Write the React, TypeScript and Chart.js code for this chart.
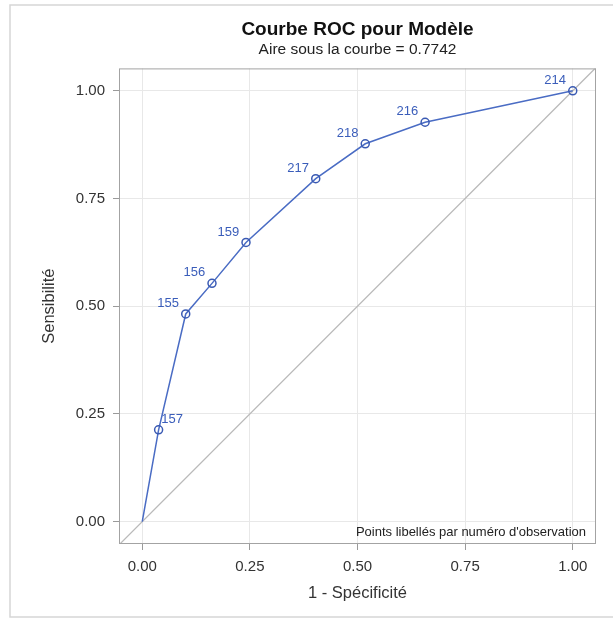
import { useEffect, useRef } from "react";
import { Chart, registerables } from "chart.js";

Chart.register(...registerables);

// ROC curve data (1 - specificity, sensitivity)
const falsePositiveRate = [0, 0.038, 0.101, 0.162, 0.241, 0.403, 0.518, 0.657, 1.0];
const sensitivity = [0, 0.213, 0.482, 0.553, 0.648, 0.796, 0.877, 0.927, 1.0];
const observationLabels = ["", "157", "155", "156", "159", "217", "218", "216", "214"];
const labelPlacement = ["", "right", "left", "left", "left", "left", "left", "left", "left"];
const tickValues = [0, 0.25, 0.5, 0.75, 1];

const titleText = "Courbe ROC pour Modèle";
const subtitleText = "Aire sous la courbe = 0.7742";
const xTitle = "1 - Spécificité";
const yTitle = "Sensibilité";
const noteText = "Points libellés par numéro d'observation";

const FONT = "'Liberation Sans', Arial, sans-serif";
const BLUE_LINE = "#4a6cc4";
const BLUE_MARK = "#3a5ab3";
const BLUE_TEXT = "#3a5dba";

export default function App() {
  const ref = useRef<HTMLCanvasElement | null>(null);

  useEffect(() => {
    const canvas = ref.current;
    if (!canvas) return;

    const framePlugin = {
      id: "frame",
      beforeDraw(chart: any) {
        const { ctx } = chart;
        ctx.save();
        ctx.fillStyle = "#ffffff";
        ctx.fillRect(0, 0, chart.width, chart.height);
        ctx.strokeStyle = "#d6d6d6";
        ctx.lineWidth = 1.5;
        ctx.strokeRect(10, 5, 640, 612);
        ctx.restore();
      },
      beforeDatasetsDraw(chart: any) {
        const { ctx, chartArea: a, scales } = chart;
        const xs = scales.x;
        const ys = scales.y;
        const lo = Math.min(xs.min, ys.min);
        const hi = Math.max(xs.max, ys.max);
        ctx.save();
        ctx.beginPath();
        ctx.rect(a.left, a.top, a.right - a.left, a.bottom - a.top);
        ctx.clip();
        ctx.strokeStyle = "#b9b9b9";
        ctx.lineWidth = 1.3;
        ctx.beginPath();
        ctx.moveTo(xs.getPixelForValue(lo), ys.getPixelForValue(lo));
        ctx.lineTo(xs.getPixelForValue(hi), ys.getPixelForValue(hi));
        ctx.stroke();
        ctx.restore();
      },
      afterDatasetsDraw(chart: any) {
        const { ctx, chartArea: a } = chart;
        ctx.save();
        // plot border
        ctx.strokeStyle = "#a3a3a3";
        ctx.lineWidth = 1;
        ctx.strokeRect(a.left + 0.5, a.top + 0.5, a.right - a.left - 1, a.bottom - a.top - 1);
        // point labels
        const meta = chart.getDatasetMeta(0);
        ctx.fillStyle = BLUE_TEXT;
        ctx.font = `13px ${FONT}`;
        ctx.textAlign = "center";
        ctx.textBaseline = "middle";
        meta.data.forEach((el: any, i: number) => {
          const txt = observationLabels[i];
          if (!txt) return;
          const dx = labelPlacement[i] === "right" ? 13.5 : -17.7;
          ctx.fillText(txt, el.x + dx, el.y - 10.5);
        });
        // note
        ctx.fillStyle = "#222222";
        ctx.font = `13px ${FONT}`;
        ctx.textAlign = "right";
        ctx.textBaseline = "alphabetic";
        ctx.fillText(noteText, a.right - 10, a.bottom - 8);
        ctx.restore();
      },
    };

    const points = falsePositiveRate.map((x, i) => ({ x, y: sensitivity[i] }));

    const chart = new Chart(canvas, {
      type: "line",
      data: {
        datasets: [
          {
            data: points,
            borderColor: BLUE_LINE,
            borderWidth: 1.5,
            pointRadius: points.map((_, i) => (observationLabels[i] ? 4 : 0)),
            pointBorderColor: BLUE_MARK,
            pointBackgroundColor: "rgba(0,0,0,0)",
            pointBorderWidth: 1.5,
            tension: 0,
          },
        ],
      },
      options: {
        responsive: false,
        animation: false,
        events: [],
        layout: { padding: { left: 0, right: 17, top: 0, bottom: 0 } },
        plugins: {
          legend: { display: false },
          tooltip: { enabled: false },
          title: {
            display: true,
            text: titleText,
            fullSize: false,
            color: "#111111",
            font: { family: FONT, size: 19, weight: "bold", lineHeight: 1.2 },
            padding: { top: 18, bottom: 0 },
          },
          subtitle: {
            display: true,
            text: subtitleText,
            fullSize: false,
            color: "#222222",
            font: { family: FONT, size: 15.5, lineHeight: 1.2 },
            padding: { top: 0, bottom: 9 },
          },
        },
        scales: {
          x: {
            type: "linear",
            min: -0.054,
            max: 1.054,
            afterBuildTicks: (s: any) => {
              s.ticks = tickValues.map((v) => ({ value: v }));
            },
            afterFit: (s: any) => {
              s.height = 75;
            },
            ticks: {
              color: "#333333",
              font: { family: FONT, size: 15 },
              padding: 8,
              maxRotation: 0,
              callback: (v: any) => Number(v).toFixed(2),
            },
            grid: { color: "#e8e8e8", tickColor: "#9a9a9a", tickLength: 6, lineWidth: 1 },
            border: { display: false },
            title: {
              display: true,
              text: xTitle,
              color: "#333333",
              font: { family: FONT, size: 16.5, lineHeight: 1.2 },
              padding: { top: 0, bottom: 16 },
            },
          },
          y: {
            type: "linear",
            min: -0.052,
            max: 1.052,
            afterBuildTicks: (s: any) => {
              s.ticks = tickValues.map((v) => ({ value: v }));
            },
            afterFit: (s: any) => {
              s.width = 119;
            },
            ticks: {
              color: "#333333",
              font: { family: FONT, size: 15 },
              padding: 8,
              callback: (v: any) => Number(v).toFixed(2),
            },
            grid: { color: "#e8e8e8", tickColor: "#9a9a9a", tickLength: 6, lineWidth: 1 },
            border: { display: false },
            title: {
              display: true,
              text: yTitle,
              color: "#333333",
              font: { family: FONT, size: 16.5, lineHeight: 1.2 },
              padding: { top: 40, bottom: 0 },
            },
          },
        },
      },
      plugins: [framePlugin],
    });

    return () => chart.destroy();
  }, []);

  return (
    <div style={{ position: "absolute", left: 0, top: 0, width: 613, height: 619 }}>
      <canvas ref={ref} width={613} height={619} style={{ display: "block" }} />
    </div>
  );
}
